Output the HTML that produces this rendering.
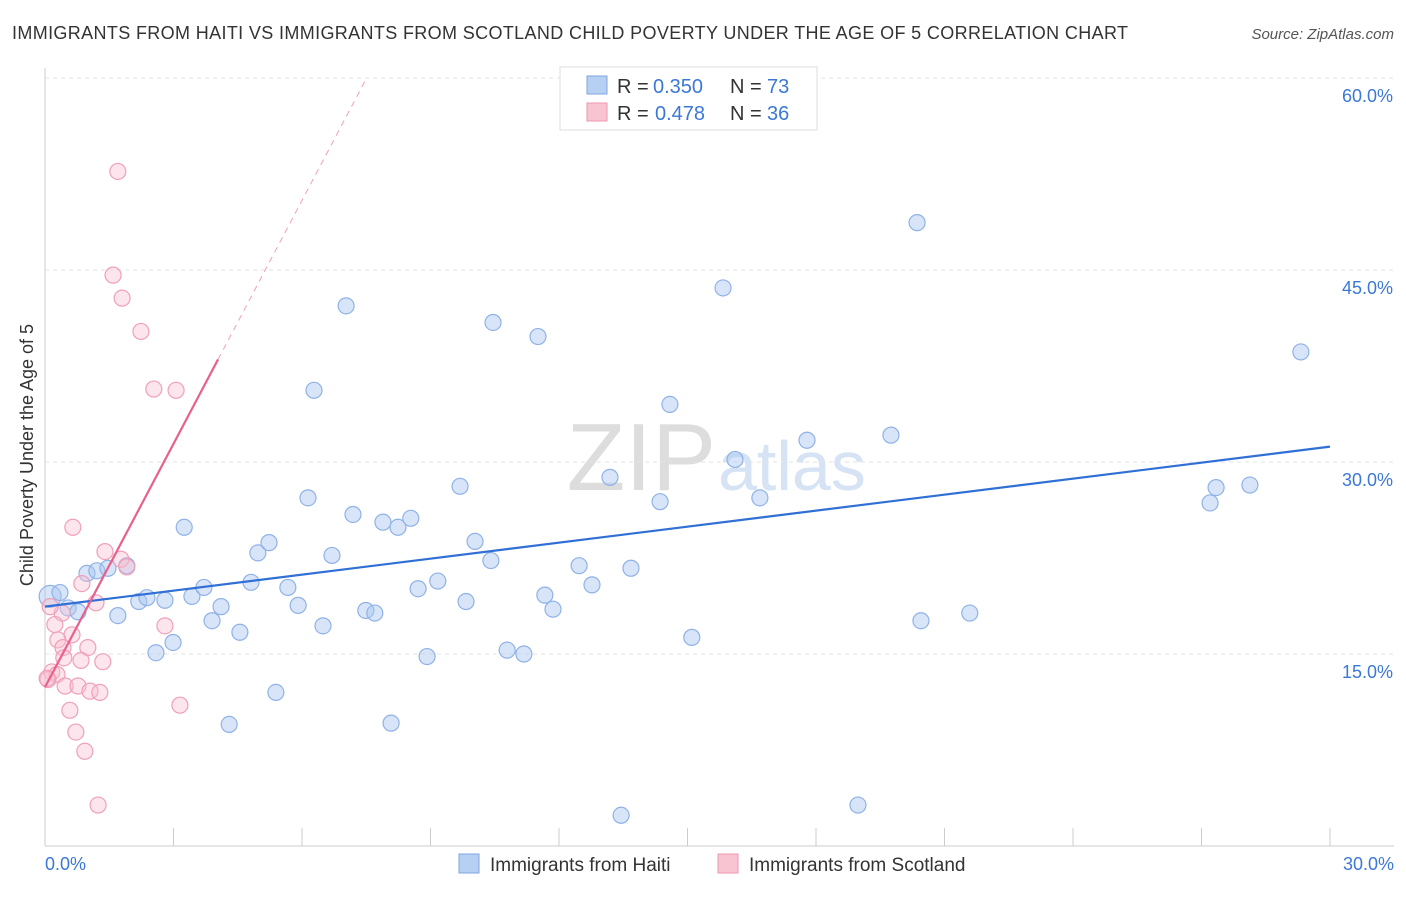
<!DOCTYPE html>
<html><head><meta charset="utf-8"><style>
body{margin:0;background:#fff;font-family:"Liberation Sans",sans-serif}
svg text{font-family:"Liberation Sans",sans-serif}
</style></head><body>
<svg id="chart" width="1406" height="892">
<text x="12" y="39" font-size="18" fill="#333" textLength="1116" lengthAdjust="spacing">IMMIGRANTS FROM HAITI VS IMMIGRANTS FROM SCOTLAND CHILD POVERTY UNDER THE AGE OF 5 CORRELATION CHART</text>
<text x="1394" y="39" font-size="15" fill="#555" font-style="italic" text-anchor="end">Source: ZipAtlas.com</text>
<text x="716" y="490" font-size="96" fill="#ddd" text-anchor="end" font-family="Liberation Serif">ZIP</text>
<text x="718" y="490" font-size="70" fill="#d5e3f5">atlas</text>
<g id="grid"></g><g id="axes"></g><g id="marks"></g>
<text transform="translate(33,455) rotate(-90)" font-size="18" fill="#333" text-anchor="middle">Child Poverty Under the Age of 5</text>
<g>
<rect x="560" y="67" width="257" height="63" fill="#fff" stroke="#ddd"/>
<rect x="587" y="76" width="20" height="18" fill="#b6cff3" stroke="#7fa6e0"/>
<rect x="587" y="103" width="20" height="18" fill="#f9c4d2" stroke="#ee97b0"/>
<text x="617" y="93" font-size="20" fill="#333">R =</text>
<text x="653" y="93" font-size="20" fill="#3b78d8">0.350</text>
<text x="730" y="93" font-size="20" fill="#333">N =</text>
<text x="767" y="93" font-size="20" fill="#3b78d8">73</text>
<text x="617" y="120" font-size="20" fill="#333">R =</text>
<text x="655" y="120" font-size="20" fill="#3b78d8">0.478</text>
<text x="730" y="120" font-size="20" fill="#333">N =</text>
<text x="767" y="120" font-size="20" fill="#3b78d8">36</text>
</g>
<g>
<rect x="459" y="854" width="20" height="19" fill="#b6cff3" stroke="#7fa6e0"/>
<text x="490" y="871" font-size="19" fill="#333">Immigrants from Haiti</text>
<rect x="718" y="854" width="20" height="19" fill="#f9c4d2" stroke="#ee97b0"/>
<text x="749" y="871" font-size="19" fill="#333">Immigrants from Scotland</text>
</g>
</svg>
<script>
const blueX=[.12,.35,.54,.77,.98,1.21,1.47,1.70,1.91,2.19,2.38,2.59,2.80,2.99,3.25,3.43,3.71,3.90,4.11,4.30,4.55,4.81,4.97,5.23,5.39,5.67,5.91,6.14,6.28,6.49,6.70,7.03,7.19,7.49,7.70,7.89,8.08,8.24,8.54,8.71,8.92,9.17,9.69,9.83,10.04,10.41,10.46,10.79,11.18,11.51,11.67,11.86,12.47,12.77,13.19,13.45,13.68,14.36,14.59,15.10,15.83,16.11,16.69,17.79,18.98,19.75,20.36,20.45,21.59,27.20,27.34,28.13,29.32];
const blueY=[19.5,19.8,18.6,18.3,21.3,21.5,21.7,18.0,21.9,19.1,19.4,15.1,19.2,15.9,24.9,19.5,20.2,17.6,18.7,9.5,16.7,20.6,22.9,23.7,12.0,20.2,18.8,27.2,35.6,17.2,22.7,42.2,25.9,18.4,18.2,25.3,9.6,24.9,25.6,20.1,14.8,20.7,28.1,19.1,23.8,22.3,40.9,15.3,15.0,39.8,19.6,18.5,21.9,20.4,28.8,2.4,21.7,26.9,34.5,16.3,43.6,30.2,27.2,31.7,3.2,32.1,48.7,17.6,18.2,26.8,28.0,28.2,38.6];
const pinkX=[1.70,1.59,1.80,2.24,2.54,3.06,.65,.86,1.40,1.77,1.91,1.19,.40,.12,.23,.63,.30,.42,1.00,.84,1.35,2.80,.16,.28,.07,.47,.77,1.05,1.28,3.15,.58,.72,.93,1.24,.44,.05];
const pinkY=[52.7,44.6,42.8,40.2,35.7,35.6,24.9,20.5,23.0,22.4,21.8,19.0,18.2,18.7,17.3,16.5,16.1,15.5,15.5,14.5,14.4,17.2,13.6,13.4,13.0,12.5,12.5,12.1,12.0,11.0,10.6,8.9,7.4,3.2,14.7,13.1];
const yTicks=[15,30,45,60];
const yTickLabels=["15.0%","30.0%","45.0%","60.0%"];
const blueLine=[18.7,31.2];
const pinkLine=[12.4,6.34];
const NS="http://www.w3.org/2000/svg";
const sx=v=>45+v/30*1285, sy=v=>846-v/60*768;
function mk(t,a,p){const e=document.createElementNS(NS,t);for(const k in a)e.setAttribute(k,a[k]);p.appendChild(e);return e;}
const grid=document.getElementById('grid'),axes=document.getElementById('axes'),marks=document.getElementById('marks');
yTicks.forEach((t,i)=>{
 const l=mk('line',{x1:45,x2:1394,y1:sy(t),y2:sy(t),stroke:'#e3e3e3','stroke-dasharray':'4,4'},grid);
 
 
 const tx=mk('text',{x:1393,y:sy(t)+24,'font-size':18,fill:'#3b78d8','text-anchor':'end'},axes);
 tx.textContent=yTickLabels[i];
 
 
});
mk('line',{x1:45,x2:45,y1:68,y2:846,stroke:'#ccc'},axes);
mk('line',{x1:45,x2:1394,y1:846,y2:846,stroke:'#ccc'},axes);
for(let i=0;i<=10;i++){const tk=mk('line',{x1:sx(i*3),x2:sx(i*3),y1:828,y2:846,stroke:'#ccc'},axes);
 
 }
const x0=mk('text',{x:45,y:870,'font-size':18,fill:'#3b78d8'},axes);x0.textContent='0.0%';


const x1=mk('text',{x:1394,y:870,'font-size':18,fill:'#3b78d8','text-anchor':'end'},axes);x1.textContent='30.0%';


blueX.forEach((x,i)=>{const c=mk('circle',{cx:sx(x),cy:sy(blueY[i]),r:i==0?11:8,fill:'rgba(168,198,240,0.45)',stroke:'#8fb2e6','stroke-width':1.2},marks);
 
 });
pinkX.forEach((x,i)=>{const c=mk('circle',{cx:sx(x),cy:sy(pinkY[i]),r:8,fill:'rgba(248,190,208,0.4)',stroke:'#f0a0b8','stroke-width':1.2},marks);
 
 });
const bl=mk('line',{x1:sx(0),y1:sy(blueLine[0]),x2:sx(30),y2:sy(blueLine[1]),stroke:'#2f6fd6','stroke-width':2.2},marks);


const xe=4.04, xd=(60-pinkLine[0])/pinkLine[1];
const pl=mk('line',{x1:sx(0),y1:sy(pinkLine[0]),x2:sx(xe),y2:sy(pinkLine[0]+pinkLine[1]*xe),stroke:'#e8608e','stroke-width':2.2},marks);


const pd=mk('line',{x1:sx(xe),y1:sy(pinkLine[0]+pinkLine[1]*xe),x2:sx(xd),y2:sy(60),stroke:'#f0a0b8','stroke-width':1,'stroke-dasharray':'6,5'},marks);


</script>
</body></html>
